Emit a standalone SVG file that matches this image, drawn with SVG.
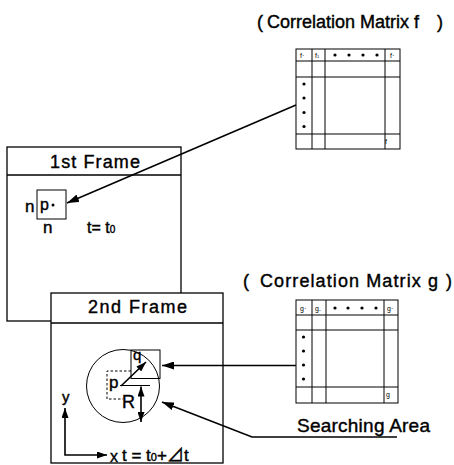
<svg xmlns="http://www.w3.org/2000/svg" width="454" height="465" viewBox="0 0 454 465">
<style>
.t{font-family:"Liberation Sans","Noto Sans CJK JP",Arial,sans-serif;fill:#000;stroke:#000;stroke-width:0.4}
.s{font-family:"Liberation Sans",Arial,sans-serif;font-size:7px;fill:#000}
.frame{fill:#fff;stroke:#000;stroke-width:1.3}
.grid{fill:none;stroke:#000;stroke-width:1}
.ln{fill:none;stroke:#000;stroke-width:1.6}
.thin{fill:none;stroke:#000;stroke-width:1}
.dash{fill:none;stroke:#000;stroke-width:1;stroke-dasharray:2.5 2}
</style>
<defs>
<marker id="ah" viewBox="0 0 12 8" refX="12" refY="4" markerWidth="12" markerHeight="8" markerUnits="userSpaceOnUse" orient="auto-start-reverse"><path d="M0,0 L12,4 L0,8 Z" fill="#000"/></marker>
<marker id="ahs" viewBox="0 0 10 7" refX="10" refY="3.5" markerWidth="10" markerHeight="7" markerUnits="userSpaceOnUse" orient="auto-start-reverse"><path d="M0,0 L10,3.5 L0,7 Z" fill="#000"/></marker>
</defs>

<g id="matrix-f-title">
<text class="t" x="257" y="28" font-size="18">(</text>
<text class="t" x="267" y="28" font-size="18" textLength="152" lengthAdjust="spacing">Correlation Matrix f</text>
<text class="t" x="437" y="28" font-size="18">)</text>
</g>

<g id="matrix-f">
<rect class="grid" x="296" y="49" width="104" height="100" stroke-width="1.3"/>
<path class="grid" d="M312,49V149M325,49V149M385,49V149M296,61H400M296,77H400M296,134H400"/>
<text class="s" x="300" y="58">f·</text>
<text class="s" x="315" y="58">f<tspan font-size="4">1</tspan></text>
<text class="s" x="390" y="58">f·</text>
<g fill="#000">
<circle cx="335" cy="55" r="1.6"/><circle cx="349" cy="55" r="1.6"/><circle cx="363" cy="55" r="1.6"/><circle cx="377" cy="55" r="1.6"/>
<circle cx="304" cy="84" r="1.6"/><circle cx="304" cy="98" r="1.6"/><circle cx="304" cy="112.5" r="1.6"/><circle cx="304" cy="126.5" r="1.6"/>
</g>
<text class="s" x="385" y="144">f</text>
</g>

<g id="frame1">
<rect class="frame" x="7" y="147" width="174" height="174"/>
<line class="frame" x1="7" y1="175" x2="181" y2="175"/>
<text class="t" x="50" y="168" font-size="18" textLength="90" lengthAdjust="spacing">1st  Frame</text>
<rect class="thin" x="37" y="190" width="29" height="29" stroke-width="1.2"/>
<text class="t" x="25" y="212" font-size="17">n</text>
<text class="t" x="40" y="210" font-size="16">p</text>
<circle cx="53" cy="205" r="1.5" fill="#000"/>
<text class="t" x="43" y="233" font-size="17">n</text>
<text class="t" x="87" y="233" font-size="16">t= t<tspan font-size="10">0</tspan></text>
</g>

<g id="frame2">
<rect class="frame" x="51" y="293" width="172" height="170"/>
<line class="frame" x1="51" y1="323" x2="223" y2="323"/>
<text class="t" x="88" y="313" font-size="18" textLength="99" lengthAdjust="spacing">2nd  Frame</text>
<circle class="thin" cx="123" cy="386" r="36.5"/>
<rect class="thin" x="131" y="350" width="29" height="28.5" stroke-width="1.2"/>
<path class="dash" d="M131,371H107V399H123"/>
<line class="thin" x1="120" y1="385.5" x2="150" y2="385.5" stroke-width="1.2"/>
<line class="ln" x1="121" y1="386" x2="146" y2="362" stroke-width="2" marker-end="url(#ahs)"/>
<line class="ln" x1="141" y1="386.5" x2="141" y2="422" marker-start="url(#ahs)" marker-end="url(#ahs)"/>
<text class="t" x="109" y="388" font-size="17">p</text>
<text class="t" x="133" y="360" font-size="15">q</text>
<text class="t" x="122" y="408" font-size="18">R</text>
<text class="t" x="62" y="402" font-size="15">y</text>
<path class="ln" d="M65,408V455H107" marker-start="url(#ahs)" marker-end="url(#ahs)"/>
<text class="t" x="110" y="462" font-size="16">x</text>
<text class="t" x="122" y="461" font-size="17">t = t<tspan font-size="11">0</tspan>+⊿t</text>
</g>

<g id="matrix-g-title">
<text class="t" x="243" y="287" font-size="18">(</text>
<text class="t" x="260" y="287" font-size="18" textLength="178" lengthAdjust="spacing">Correlation  Matrix g</text>
<text class="t" x="446" y="287" font-size="18">)</text>
</g>

<g id="matrix-g">
<rect class="grid" x="296" y="300" width="102" height="103" stroke-width="1.3"/>
<path class="grid" d="M312,300V403M326,300V403M384,300V403M296,315H398M296,330H398M296,387H398"/>
<text class="s" x="300" y="311">g·</text>
<text class="s" x="315" y="311">g.</text>
<text class="s" x="387" y="311">g·</text>
<g fill="#000">
<circle cx="335" cy="308" r="1.6"/><circle cx="348" cy="308" r="1.6"/><circle cx="362" cy="308" r="1.6"/><circle cx="376" cy="308" r="1.6"/>
<circle cx="303.5" cy="337" r="1.6"/><circle cx="303.5" cy="351" r="1.6"/><circle cx="303.5" cy="365" r="1.6"/><circle cx="303.5" cy="379" r="1.6"/>
</g>
<text class="s" x="386" y="397">g</text>
</g>

<g id="searching-area">
<text class="t" x="297" y="432" font-size="19" textLength="133" lengthAdjust="spacing">Searching Area</text>
</g>

<g id="connectors">
<line class="ln" x1="296" y1="105" x2="67" y2="203" marker-end="url(#ah)"/>
<line class="ln" x1="296" y1="365.5" x2="162" y2="365.5" marker-end="url(#ah)"/>
<polyline class="ln" points="397,437 252,437 162,402" marker-end="url(#ah)"/>
</g>
</svg>
